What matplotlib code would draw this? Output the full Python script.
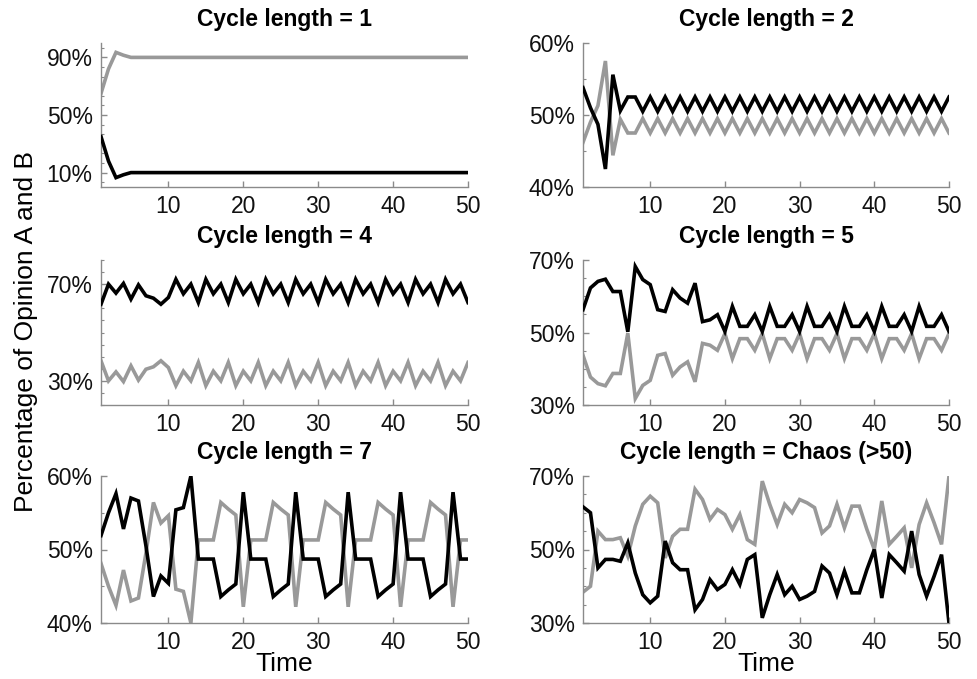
import matplotlib
matplotlib.use("Agg")
import matplotlib.pyplot as plt
from matplotlib.ticker import FixedLocator, AutoMinorLocator, FuncFormatter

plt.rcParams['font.family'] = ['Liberation Sans', 'DejaVu Sans']

time = list(range(1, 51))

# Cycle length = 1
c1_a = [35, 18, 6.5, 8.5, 10, 10, 10, 10, 10, 10,
        10, 10, 10, 10, 10, 10, 10, 10, 10, 10,
        10, 10, 10, 10, 10, 10, 10, 10, 10, 10,
        10, 10, 10, 10, 10, 10, 10, 10, 10, 10,
        10, 10, 10, 10, 10, 10, 10, 10, 10, 10]
c1_b = [65, 82, 93.5, 91.5, 90, 90, 90, 90, 90, 90,
        90, 90, 90, 90, 90, 90, 90, 90, 90, 90,
        90, 90, 90, 90, 90, 90, 90, 90, 90, 90,
        90, 90, 90, 90, 90, 90, 90, 90, 90, 90,
        90, 90, 90, 90, 90, 90, 90, 90, 90, 90]

# Cycle length = 2
c2_a = [53.8, 51.0, 48.7, 42.5, 55.6, 50.6, 52.5, 52.5, 50.5, 52.5,
        50.5, 52.5, 50.5, 52.5, 50.5, 52.5, 50.5, 52.5, 50.5, 52.5,
        50.5, 52.5, 50.5, 52.5, 50.5, 52.5, 50.5, 52.5, 50.5, 52.5,
        50.5, 52.5, 50.5, 52.5, 50.5, 52.5, 50.5, 52.5, 50.5, 52.5,
        50.5, 52.5, 50.5, 52.5, 50.5, 52.5, 50.5, 52.5, 50.5, 52.5]
c2_b = [46.2, 49.0, 51.3, 57.5, 44.4, 49.4, 47.5, 47.5, 49.5, 47.5,
        49.5, 47.5, 49.5, 47.5, 49.5, 47.5, 49.5, 47.5, 49.5, 47.5,
        49.5, 47.5, 49.5, 47.5, 49.5, 47.5, 49.5, 47.5, 49.5, 47.5,
        49.5, 47.5, 49.5, 47.5, 49.5, 47.5, 49.5, 47.5, 49.5, 47.5,
        49.5, 47.5, 49.5, 47.5, 49.5, 47.5, 49.5, 47.5, 49.5, 47.5]

# Cycle length = 4
c4_a = [61.7, 70.0, 66.3, 70.3, 63.8, 69.7, 65.2, 64.2, 61.7, 64.5,
        72.0, 66.0, 70.0, 62.4, 72.0, 66.0, 70.0, 62.4, 72.0, 66.0,
        70.0, 62.4, 72.0, 66.0, 70.0, 62.4, 72.0, 66.0, 70.0, 62.4,
        72.0, 66.0, 70.0, 62.4, 72.0, 66.0, 70.0, 62.4, 72.0, 66.0,
        70.0, 62.4, 72.0, 66.0, 70.0, 62.4, 72.0, 66.0, 70.0, 62.4]
c4_b = [38.3, 30.0, 33.7, 29.7, 36.2, 30.3, 34.8, 35.8, 38.3, 35.5,
        28.0, 34.0, 30.0, 37.6, 28.0, 34.0, 30.0, 37.6, 28.0, 34.0,
        30.0, 37.6, 28.0, 34.0, 30.0, 37.6, 28.0, 34.0, 30.0, 37.6,
        28.0, 34.0, 30.0, 37.6, 28.0, 34.0, 30.0, 37.6, 28.0, 34.0,
        30.0, 37.6, 28.0, 34.0, 30.0, 37.6, 28.0, 34.0, 30.0, 37.6]

# Cycle length = 5
c5_a = [56.3, 62.3, 64.1, 64.7, 61.3, 61.3, 50.2, 68.2, 64.6, 63.2,
        56.3, 55.8, 61.8, 59.5, 58.1, 63.6, 53.0, 53.5, 54.9, 50.3,
        57.2, 51.7, 51.7, 54.9, 50.3, 57.2, 51.7, 51.7, 54.9, 50.3,
        57.2, 51.7, 51.7, 54.9, 50.3, 57.2, 51.7, 51.7, 54.9, 50.3,
        57.2, 51.7, 51.7, 54.9, 50.3, 57.2, 51.7, 51.7, 54.9, 50.3]
c5_b = [43.7, 37.7, 35.9, 35.3, 38.7, 38.7, 49.8, 31.8, 35.4, 36.8,
        43.7, 44.2, 38.2, 40.5, 41.9, 36.4, 47.0, 46.5, 45.1, 49.7,
        42.8, 48.3, 48.3, 45.1, 49.7, 42.8, 48.3, 48.3, 45.1, 49.7,
        42.8, 48.3, 48.3, 45.1, 49.7, 42.8, 48.3, 48.3, 45.1, 49.7,
        42.8, 48.3, 48.3, 45.1, 49.7, 42.8, 48.3, 48.3, 45.1, 49.7]

# Cycle length = 7
c7_a = [51.9, 55.0, 57.6, 52.8, 57.0, 56.6, 50.5, 43.6, 46.4, 45.4,
        55.4, 55.7, 60.0, 48.7, 48.7, 48.7, 43.6, 44.5, 45.3, 57.8,
        48.7, 48.7, 48.7, 43.6, 44.5, 45.3, 57.8, 48.7, 48.7, 48.7,
        43.6, 44.5, 45.3, 57.8, 48.7, 48.7, 48.7, 43.6, 44.5, 45.3,
        57.8, 48.7, 48.7, 48.7, 43.6, 44.5, 45.3, 57.8, 48.7, 48.7]
c7_b = [48.1, 45.0, 42.4, 47.2, 43.0, 43.4, 49.5, 56.4, 53.6, 54.6,
        44.6, 44.3, 40.0, 51.3, 51.3, 51.3, 56.4, 55.5, 54.7, 42.2,
        51.3, 51.3, 51.3, 56.4, 55.5, 54.7, 42.2, 51.3, 51.3, 51.3,
        56.4, 55.5, 54.7, 42.2, 51.3, 51.3, 51.3, 56.4, 55.5, 54.7,
        42.2, 51.3, 51.3, 51.3, 56.4, 55.5, 54.7, 42.2, 51.3, 51.3]

# Cycle length = Chaos (>50)
ch_a = [61.6, 60.0, 45.0, 47.3, 47.3, 46.8, 51.8, 43.6, 37.7, 35.5,
        37.3, 52.3, 46.4, 44.5, 44.5, 33.6, 36.4, 41.8, 39.1, 40.5,
        44.5, 40.5, 47.3, 48.6, 31.4, 37.7, 43.2, 37.7, 40.0, 36.4,
        37.3, 38.6, 45.5, 43.6, 37.7, 44.1, 38.2, 38.2, 44.5, 50.0,
        36.8, 48.6, 46.4, 44.1, 55.0, 43.2, 37.3, 42.7, 48.6, 30.0]
ch_b = [38.4, 40.0, 55.0, 52.7, 52.7, 53.2, 48.2, 56.4, 62.3, 64.5,
        62.7, 47.7, 53.6, 55.5, 55.5, 66.4, 63.6, 58.2, 60.9, 59.5,
        55.5, 59.5, 52.7, 51.4, 68.6, 62.3, 56.8, 62.3, 60.0, 63.6,
        62.7, 61.4, 54.5, 56.4, 62.3, 55.9, 61.8, 61.8, 55.5, 50.0,
        63.2, 51.4, 53.6, 55.9, 45.0, 56.8, 62.7, 57.3, 51.4, 70.0]

titles = ["Cycle length = 1", "Cycle length = 2", "Cycle length = 4",
          "Cycle length = 5", "Cycle length = 7", "Cycle length = Chaos (>50)"]
x_ticks = [10, 20, 30, 40, 50]

panels = [
    (c1_a, c1_b, (0, 100), [10, 50, 90], 6),
    (c2_a, c2_b, (40, 60), [40, 50, 60], 2),
    (c4_a, c4_b, (20, 80), [30, 70], 8),
    (c5_a, c5_b, (30, 70), [30, 50, 70], 4),
    (c7_a, c7_b, (40, 60), [40, 50, 60], 2),
    (ch_a, ch_b, (30, 70), [30, 50, 70], 4),
]

W, H = 978, 679
fig = plt.figure(figsize=(W / 100, H / 100), dpi=100)

col_x = [(101, 468), (583, 949)]
row_y = [(43, 187), (260, 405), (476, 623)]

BLACK = '#000000'
GRAY = '#999999'
SPINE = '#8a8a8a'

for i, (a, b, ylim, yt, nminor) in enumerate(panels):
    r, c = divmod(i, 2)
    x0, x1 = col_x[c]
    y0, y1 = row_y[r]
    ax = fig.add_axes([x0 / W, 1 - y1 / H, (x1 - x0) / W, (y1 - y0) / H])
    ax.plot(time, b, color=GRAY, lw=2.6, solid_joinstyle='miter', zorder=2)
    ax.plot(time, a, color=BLACK, lw=2.6, solid_joinstyle='miter', zorder=3)
    ax.set_xlim(1, 50)
    ax.set_ylim(*ylim)
    ax.xaxis.set_major_locator(FixedLocator(x_ticks))
    ax.yaxis.set_major_locator(FixedLocator(yt))
    ax.yaxis.set_minor_locator(AutoMinorLocator(nminor))
    ax.yaxis.set_major_formatter(FuncFormatter(lambda v, p: f"{v:.0f}%"))
    for s in ['top', 'right']:
        ax.spines[s].set_visible(False)
    for s in ['left', 'bottom']:
        ax.spines[s].set_color(SPINE)
        ax.spines[s].set_linewidth(1.0)
    ax.tick_params(axis='both', which='major', direction='in', length=4,
                   width=1.0, color=SPINE, labelsize=16.5, labelcolor='#111111')
    ax.tick_params(axis='y', which='minor', direction='in', length=2.5,
                   width=0.8, color=SPINE)
    ax.tick_params(axis='y', which='major', pad=6)
    ax.tick_params(axis='x', which='major', pad=6)
    ax.set_title(titles[i], fontsize=16.5, fontweight='bold', pad=12)
    if r == 2:
        ax.set_xlabel("Time", fontsize=19, labelpad=-2)

fig.text(26 / W, 1 - 332 / H, "Percentage of Opinion A and B", rotation=90,
         ha='center', va='center', fontsize=19)

fig.savefig("out.png", dpi=100)
